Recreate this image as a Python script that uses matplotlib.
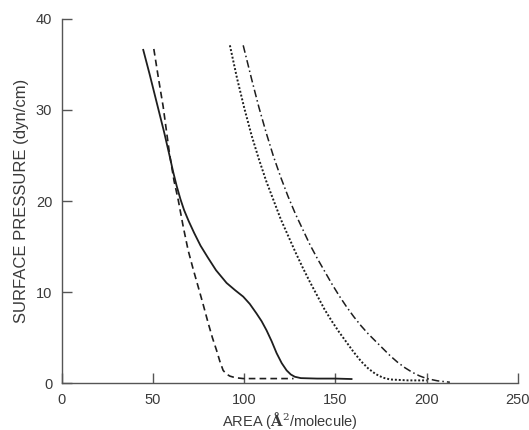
import matplotlib
matplotlib.use("Agg")
import matplotlib.pyplot as plt

# Surface pressure / area isotherms for four monolayers
solid_area = [44.6, 48, 52, 56, 59, 61, 63, 65, 67, 69.5, 72.5, 76, 80, 84.5, 90.3, 95,
              99.4, 103, 106.7, 109.5, 112.2, 115, 117.7, 120.5, 123.2, 125.5, 127.7, 131,
              140, 150, 158.8]
solid_pressure = [36.6, 34.0, 30.8, 27.6, 25.0, 23.2, 21.6, 20.2, 19.0, 17.8, 16.5, 15.1,
                  13.8, 12.4, 11.0, 10.2, 9.5, 8.7, 7.65, 6.8, 5.8, 4.6, 3.3, 2.2, 1.4,
                  0.95, 0.7, 0.55, 0.5, 0.5, 0.45]

dashed_area = [50.4, 53, 55.5, 59.0, 61.5, 63.8, 66.5, 69.2, 72.0, 74.7, 77.5, 80.2, 82.5,
               84.8, 86.6, 88.4, 90.2, 92.1, 95, 99.4, 110, 120, 127]
dashed_pressure = [36.7, 33.4, 30.4, 25.2, 22.2, 20.1, 17.2, 14.6, 12.5, 10.6, 8.6, 6.6,
                   5.0, 3.6, 2.4, 1.4, 1.0, 0.77, 0.6, 0.5, 0.5, 0.5, 0.5]

dotted_area = [92.1, 96, 100, 104, 108, 112, 116, 120, 124, 128, 132, 136, 140, 144, 148,
               152, 156, 160, 164, 168, 172, 176, 180, 190, 200]
dotted_pressure = [37.1, 33.5, 30.2, 27.2, 24.6, 22.2, 20.1, 18.0, 16.2, 14.4, 12.7, 11.1,
                   9.6, 8.1, 6.8, 5.6, 4.5, 3.4, 2.4, 1.6, 1.0, 0.6, 0.4, 0.3, 0.3]

dashdot_area = [99.4, 104, 108, 112, 116, 120, 124, 128, 132, 136, 140, 144, 148, 152,
                156, 160, 164, 168, 172, 176, 180, 184, 188, 192, 196, 200, 206, 212.7]
dashdot_pressure = [37.1, 33.4, 30.3, 27.5, 24.9, 22.6, 20.5, 18.6, 16.9, 15.2, 13.7,
                    12.3, 10.9, 9.6, 8.4, 7.3, 6.3, 5.4, 4.6, 3.8, 3.0, 2.3, 1.7, 1.2,
                    0.8, 0.5, 0.25, 0.1]

x_ticks = [0, 50, 100, 150, 200, 250]
y_ticks = [0, 10, 20, 30, 40]

plt.rcParams["font.family"] = ["Liberation Sans", "DejaVu Sans"]
plt.rcParams["mathtext.fontset"] = "dejavuserif"

text_color = "#3a3a3a"
axis_color = "#555555"
line_color = "#1e1e1e"

fig = plt.figure(figsize=(5.29, 4.30), dpi=100)
ax = fig.add_axes([0.117, 0.109, 0.862, 0.847])

ax.plot(solid_area, solid_pressure, color=line_color, lw=1.3, ls="-")
ax.plot(dashed_area, dashed_pressure, color=line_color, lw=1.2, ls=(0, (4, 2.5)))
ax.plot(dotted_area, dotted_pressure, color=line_color, lw=1.4, ls=(0, (1, 1)))
ax.plot(dashdot_area, dashdot_pressure, color=line_color, lw=1.1, ls=(0, (5, 2, 1, 2)))

ax.set_xlim(0, 250)
ax.set_ylim(0, 40)
ax.set_xticks(x_ticks)
ax.set_yticks(y_ticks)

for side in ("top", "right"):
    ax.spines[side].set_visible(False)
for side in ("left", "bottom"):
    ax.spines[side].set_color(axis_color)
    ax.spines[side].set_linewidth(1.0)

ax.tick_params(direction="in", length=7, width=1.0, color=axis_color,
               labelcolor=text_color, labelsize=10.5, pad=7)

ax.set_xlabel("AREA ($\\mathbf{Å}^2$/molecule)", color=text_color, fontsize=10.5,
              labelpad=2)
ax.set_ylabel("SURFACE PRESSURE (dyn/cm)", color=text_color, fontsize=12, labelpad=5)

fig.savefig("out.png", dpi=100)
